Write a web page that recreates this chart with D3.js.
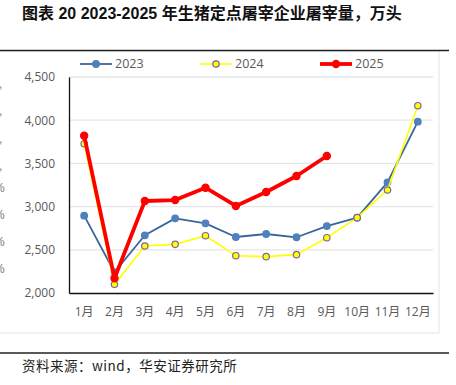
<!DOCTYPE html>
<html>
<head>
<meta charset="utf-8">
<script src="https://cdn.jsdelivr.net/npm/d3@7"></script>
<style>
  body { margin: 0; background: #fff; }
  svg { display: block; }
</style>
</head>
<body>
<div id="chart"></div>
<script>
// data (万头)
var months = ["1月", "2月", "3月", "4月", "5月", "6月", "7月", "8月", "9月", "10月", "11月", "12月"];
var s2023 = [2895, 2240, 2668, 2864, 2806, 2648, 2683, 2645, 2775, 2872, 3281, 3983];
var s2024 = [3728, 2100, 2544, 2563, 2663, 2432, 2421, 2444, 2640, 2872, 3192, 4168];
var s2025 = [3821, 2170, 3065, 3076, 3219, 3007, 3169, 3354, 3586];
var yTicks = [2000, 2500, 3000, 3500, 4000, 4500];

var w = 456, h = 385;
var plotLeft = 69, plotRight = 433, plotTop = 77, plotBottom = 293;

var svg = d3.select("#chart").append("svg")
  .attr("width", w)
  .attr("height", h);

// title
svg.append("text")
  .attr("x", 22)
  .attr("y", 19)
  .attr("font-family", "'Liberation Sans', 'Noto Sans CJK SC', sans-serif")
  .attr("font-weight", "bold")
  .style("font-size", "16px")
  .attr("fill", "#111")
  .text("图表 20 2023-2025 年生猪定点屠宰企业屠宰量，万头");

// chart frame
svg.append("rect")
  .attr("x", -1).attr("y", 51)
  .attr("width", 440).attr("height", 282)
  .attr("fill", "none")
  .attr("stroke", "#e4e4e4");

svg.append("line")
  .attr("x1", 0).attr("x2", 449)
  .attr("y1", 50.5).attr("y2", 50.5)
  .attr("stroke", "#222").attr("stroke-width", 1.5);

svg.append("line")
  .attr("x1", 0).attr("x2", 449)
  .attr("y1", 353).attr("y2", 353)
  .attr("stroke", "#222").attr("stroke-width", 1.5);

// stray cut-off labels from the neighbouring chart
var stray = [",", ",", ",", ",", "%", "%", "%", "%"];
var strayY = [88, 115, 143, 170, 192, 219, 246, 273];
svg.selectAll(".stray")
  .data(stray)
  .enter().append("text")
  .attr("class", "stray")
  .attr("x", function(d) { return d == "%" ? -6 : -1; })
  .attr("y", function(d, i) { return strayY[i]; })
  .attr("font-family", "'Liberation Sans', sans-serif")
  .style("font-size", "12px")
  .attr("fill", "#777")
  .text(function(d) { return d; });

var xScale = d3.scaleBand()
  .domain(months)
  .range([plotLeft, plotRight]);

var yScale = d3.scaleLinear()
  .domain([2000, 4500])
  .range([plotBottom, plotTop]);

// gridlines
svg.append("g")
  .selectAll("line")
  .data(yTicks.slice(1))
  .enter().append("line")
  .attr("x1", plotLeft).attr("x2", plotRight)
  .attr("y1", function(d) { return yScale(d); })
  .attr("y2", function(d) { return yScale(d); })
  .attr("stroke", "#e6e6e6")
  .attr("stroke-width", 1.3);

// y axis
var yAxis = svg.append("g")
  .attr("transform", "translate(" + plotLeft + ",0)")
  .call(d3.axisLeft(yScale).tickValues(yTicks).tickSize(0).tickPadding(14).tickFormat(d3.format(",")));
yAxis.select(".domain").attr("stroke", "#111").attr("stroke-width", 1.3);
yAxis.selectAll("text")
  .attr("font-family", "'Open Sans', 'Liberation Sans', sans-serif")
  .style("font-size", "12px")
  .attr("fill", "#595959");

// x axis
var xAxis = svg.append("g")
  .attr("transform", "translate(0," + plotBottom + ")")
  .call(d3.axisBottom(xScale).tickSize(0).tickPadding(14));
xAxis.select(".domain").attr("stroke", "#111").attr("stroke-width", 1.3);
xAxis.selectAll("text")
  .attr("font-family", "'Open Sans', 'Noto Sans CJK SC', sans-serif")
  .style("font-size", "12px")
  .attr("fill", "#595959");

var series = [
  { name: "2023", values: s2023, line: "#3a659c", lw: 1.8, fill: "#4f81bd", stroke: "#4f81bd", r: 3.3 },
  { name: "2024", values: s2024, line: "#ffff00", lw: 1.6, fill: "#ffff00", stroke: "#8064a2", r: 3.2 },
  { name: "2025", values: s2025, line: "#ff0000", lw: 3.8, fill: "#ff0000", stroke: "#ff0000", r: 3.6 }
];

var line = d3.line()
  .x(function(d, i) { return xScale(months[i]) + xScale.bandwidth() / 2; })
  .y(function(d) { return yScale(d); });

series.forEach(function(s) {
  svg.append("path")
    .datum(s.values)
    .attr("d", line)
    .attr("fill", "none")
    .attr("stroke", s.line)
    .attr("stroke-width", s.lw)
    .attr("stroke-linejoin", "round");

  svg.selectAll(".pt" + s.name)
    .data(s.values)
    .enter().append("circle")
    .attr("cx", function(d, i) { return xScale(months[i]) + xScale.bandwidth() / 2; })
    .attr("cy", function(d) { return yScale(d); })
    .attr("r", s.r)
    .attr("fill", s.fill)
    .attr("stroke", s.stroke)
    .attr("stroke-width", 1.2);
});

// legend
var legendX = [80, 200, 320];
series.forEach(function(s, i) {
  var g = svg.append("g").attr("transform", "translate(" + legendX[i] + ",64)");
  g.append("line")
    .attr("x1", 0).attr("x2", 32)
    .attr("stroke", s.line)
    .attr("stroke-width", s.lw);
  g.append("circle")
    .attr("cx", 16).attr("r", s.r)
    .attr("fill", s.fill)
    .attr("stroke", s.stroke)
    .attr("stroke-width", 1.2);
  g.append("text")
    .attr("x", 35)
    .attr("dy", "0.35em")
    .attr("font-family", "'Open Sans', 'Liberation Sans', sans-serif")
    .style("font-size", "12.5px")
    .attr("fill", "#595959")
    .text(s.name);
});

// source
svg.append("text")
  .attr("x", 22)
  .attr("y", 371)
  .attr("font-family", "'Noto Sans CJK SC', sans-serif")
  .style("font-size", "13.5px")
  .style("letter-spacing", "0.5px")
  .attr("fill", "#222")
  .text("资料来源：wind，华安证券研究所");
</script>
</body>
</html>
